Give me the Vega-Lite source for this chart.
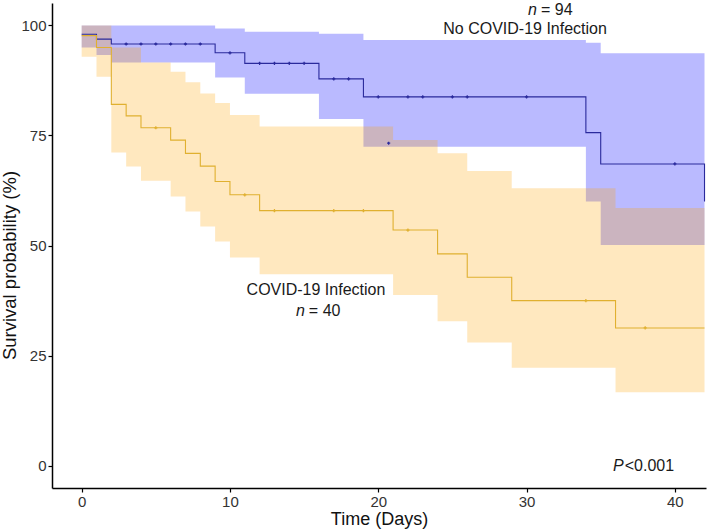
{
  "$schema": "https://vega.github.io/schema/vega-lite/v6.json",
  "width": 654,
  "height": 485,
  "autosize": {"type": "none"},
  "padding": {"left": 52, "top": 3, "right": 3, "bottom": 43},
  "background": "white",
  "config": {
    "view": {"stroke": null},
    "font": "Liberation Sans",
    "axis": {
      "grid": false,
      "domainColor": "black",
      "domainWidth": 1.5,
      "tickColor": "black",
      "tickWidth": 1.2,
      "tickSize": 4,
      "labelFont": "Liberation Sans",
      "labelFontSize": 15,
      "labelColor": "#333333",
      "labelPadding": 2,
      "titleFont": "Liberation Sans",
      "titleFontSize": 18,
      "titleFontWeight": "normal",
      "titleColor": "#111111"
    }
  },
  "datasets": {
    "km": [
      {"grp": "No COVID-19 Infection", "day": 0, "surv": 97.9, "lo": 94.9, "hi": 99.9},
      {"grp": "No COVID-19 Infection", "day": 1, "surv": 96.8, "lo": 93.2, "hi": 99.9},
      {"grp": "No COVID-19 Infection", "day": 2, "surv": 95.7, "lo": 91.5, "hi": 99.9},
      {"grp": "No COVID-19 Infection", "day": 9, "surv": 93.7, "lo": 88.1, "hi": 99.2},
      {"grp": "No COVID-19 Infection", "day": 11, "surv": 91.3, "lo": 84.4, "hi": 98.5},
      {"grp": "No COVID-19 Infection", "day": 16, "surv": 87.8, "lo": 78.7, "hi": 98.0},
      {"grp": "No COVID-19 Infection", "day": 19, "surv": 83.7, "lo": 72.4, "hi": 96.6},
      {"grp": "No COVID-19 Infection", "day": 34, "surv": 75.6, "lo": 60.0, "hi": 96.0},
      {"grp": "No COVID-19 Infection", "day": 35, "surv": 68.5, "lo": 50.1, "hi": 93.6},
      {"grp": "No COVID-19 Infection", "day": 42, "surv": 60.0, "lo": 50.1, "hi": 93.6},
      {"grp": "COVID-19 Infection", "day": 0, "surv": 97.6, "lo": 92.8, "hi": 99.9},
      {"grp": "COVID-19 Infection", "day": 1, "surv": 94.9, "lo": 88.3, "hi": 99.9},
      {"grp": "COVID-19 Infection", "day": 2, "surv": 82.0, "lo": 71.1, "hi": 94.9},
      {"grp": "COVID-19 Infection", "day": 3, "surv": 79.4, "lo": 67.9, "hi": 94.9},
      {"grp": "COVID-19 Infection", "day": 4, "surv": 76.7, "lo": 64.7, "hi": 91.5},
      {"grp": "COVID-19 Infection", "day": 6, "surv": 73.9, "lo": 61.1, "hi": 89.4},
      {"grp": "COVID-19 Infection", "day": 7, "surv": 70.9, "lo": 57.7, "hi": 87.0},
      {"grp": "COVID-19 Infection", "day": 8, "surv": 68.0, "lo": 54.3, "hi": 84.5},
      {"grp": "COVID-19 Infection", "day": 9, "surv": 64.5, "lo": 50.9, "hi": 82.3},
      {"grp": "COVID-19 Infection", "day": 10, "surv": 61.5, "lo": 47.3, "hi": 79.6},
      {"grp": "COVID-19 Infection", "day": 12, "surv": 57.9, "lo": 43.5, "hi": 77.0},
      {"grp": "COVID-19 Infection", "day": 21, "surv": 53.5, "lo": 38.8, "hi": 73.9},
      {"grp": "COVID-19 Infection", "day": 24, "surv": 48.1, "lo": 32.8, "hi": 70.9},
      {"grp": "COVID-19 Infection", "day": 26, "surv": 42.8, "lo": 28.0, "hi": 66.9},
      {"grp": "COVID-19 Infection", "day": 29, "surv": 37.5, "lo": 22.3, "hi": 63.0},
      {"grp": "COVID-19 Infection", "day": 36, "surv": 31.3, "lo": 16.7, "hi": 58.5},
      {"grp": "COVID-19 Infection", "day": 42, "surv": 31.3, "lo": 16.7, "hi": 58.5}
    ],
    "censor": [
      {"grp": "No COVID-19 Infection", "day": 3, "surv": 95.7},
      {"grp": "No COVID-19 Infection", "day": 4, "surv": 95.7},
      {"grp": "No COVID-19 Infection", "day": 5, "surv": 95.7},
      {"grp": "No COVID-19 Infection", "day": 6, "surv": 95.7},
      {"grp": "No COVID-19 Infection", "day": 7, "surv": 95.7},
      {"grp": "No COVID-19 Infection", "day": 8, "surv": 95.7},
      {"grp": "No COVID-19 Infection", "day": 10, "surv": 93.7},
      {"grp": "No COVID-19 Infection", "day": 12, "surv": 91.3},
      {"grp": "No COVID-19 Infection", "day": 13, "surv": 91.3},
      {"grp": "No COVID-19 Infection", "day": 14, "surv": 91.3},
      {"grp": "No COVID-19 Infection", "day": 15, "surv": 91.3},
      {"grp": "No COVID-19 Infection", "day": 17, "surv": 87.8},
      {"grp": "No COVID-19 Infection", "day": 18, "surv": 87.8},
      {"grp": "No COVID-19 Infection", "day": 20, "surv": 83.7},
      {"grp": "No COVID-19 Infection", "day": 22, "surv": 83.7},
      {"grp": "No COVID-19 Infection", "day": 23, "surv": 83.7},
      {"grp": "No COVID-19 Infection", "day": 25, "surv": 83.7},
      {"grp": "No COVID-19 Infection", "day": 26, "surv": 83.7},
      {"grp": "No COVID-19 Infection", "day": 30, "surv": 83.7},
      {"grp": "No COVID-19 Infection", "day": 40, "surv": 68.5},
      {"grp": "No COVID-19 Infection", "day": 20.7, "surv": 73.2},
      {"grp": "COVID-19 Infection", "day": 5, "surv": 76.7},
      {"grp": "COVID-19 Infection", "day": 11, "surv": 61.5},
      {"grp": "COVID-19 Infection", "day": 13, "surv": 57.9},
      {"grp": "COVID-19 Infection", "day": 17, "surv": 57.9},
      {"grp": "COVID-19 Infection", "day": 19, "surv": 57.9},
      {"grp": "COVID-19 Infection", "day": 22, "surv": 53.5},
      {"grp": "COVID-19 Infection", "day": 34, "surv": 37.5},
      {"grp": "COVID-19 Infection", "day": 38, "surv": 31.3}
    ],
    "labels": [
      {"day": 30.7, "surv": 103.5, "text": "n", "side": "right"},
      {"day": 30.7, "surv": 103.5, "text": "= 94", "side": "left"},
      {"day": 29.9, "surv": 99.0, "text": "No COVID-19 Infection", "side": "center"},
      {"day": 15.8, "surv": 40.0, "text": "COVID-19 Infection", "side": "center"},
      {"day": 15.05, "surv": 35.2, "text": "n", "side": "right"},
      {"day": 15.05, "surv": 35.2, "text": "= 40", "side": "left"},
      {"day": 36.55, "surv": 0, "text": "P", "side": "right"},
      {"day": 36.35, "surv": 0, "text": "<0.001", "side": "left"}
    ]
  },
  "encoding": {
    "x": {
      "field": "day",
      "type": "quantitative",
      "scale": {"domain": [-2.0, 42.1], "nice": false, "zero": false},
      "axis": {"values": [0, 10, 20, 30, 40], "title": "Time (Days)", "titlePadding": 1}
    }
  },
  "layer": [
    {
      "data": {"name": "km"},
      "transform": [{"filter": "datum.grp === 'No COVID-19 Infection'"}],
      "mark": {"type": "area", "interpolate": "step-after", "color": "#0000ff", "opacity": 0.27},
      "encoding": {
        "y": {
          "field": "lo",
          "type": "quantitative",
          "scale": {"domain": [-5, 105], "nice": false, "zero": false},
          "axis": {"values": [0, 25, 50, 75, 100], "title": "Survival probability (%)", "titlePadding": 1, "titleFontSize": 18.5, "titleY": 262}
        },
        "y2": {"field": "hi"}
      }
    },
    {
      "data": {"name": "km"},
      "transform": [{"filter": "datum.grp === 'COVID-19 Infection'"}],
      "mark": {"type": "area", "interpolate": "step-after", "color": "#ffa500", "opacity": 0.25},
      "encoding": {
        "y": {"field": "lo", "type": "quantitative", "title": "Survival probability (%)"},
        "y2": {"field": "hi"}
      }
    },
    {
      "data": {"name": "km"},
      "transform": [{"filter": "datum.grp === 'No COVID-19 Infection'"}],
      "mark": {"type": "line", "interpolate": "step-after", "color": "#2a2a9c", "strokeWidth": 1.1},
      "encoding": {
        "y": {"field": "surv", "type": "quantitative", "title": "Survival probability (%)"}
      }
    },
    {
      "data": {"name": "km"},
      "transform": [{"filter": "datum.grp === 'COVID-19 Infection'"}],
      "mark": {"type": "line", "interpolate": "step-after", "color": "#e0b030", "strokeWidth": 1.1},
      "encoding": {
        "y": {"field": "surv", "type": "quantitative", "title": "Survival probability (%)"}
      }
    },
    {
      "data": {"name": "censor"},
      "mark": {"type": "point", "shape": "cross", "filled": true, "size": 10, "opacity": 1},
      "encoding": {
        "y": {"field": "surv", "type": "quantitative", "title": "Survival probability (%)"},
        "color": {
          "field": "grp",
          "type": "nominal",
          "scale": {"domain": ["No COVID-19 Infection", "COVID-19 Infection"], "range": ["#2a2a9c", "#e0b030"]},
          "legend": null
        }
      }
    },
    {
      "data": {"name": "labels"},
      "transform": [{"filter": "datum.side === 'center'"}],
      "mark": {"type": "text", "align": "center", "baseline": "middle", "fontSize": 16, "color": "#1a1a1a", "font": "Liberation Sans"},
      "encoding": {
        "y": {"field": "surv", "type": "quantitative", "title": "Survival probability (%)"},
        "text": {"field": "text"}
      }
    },
    {
      "data": {"name": "labels"},
      "transform": [{"filter": "datum.side === 'right'"}],
      "mark": {"type": "text", "align": "right", "baseline": "middle", "fontSize": 16, "fontStyle": "italic", "color": "#1a1a1a", "font": "Liberation Sans"},
      "encoding": {
        "y": {"field": "surv", "type": "quantitative", "title": "Survival probability (%)"},
        "text": {"field": "text"}
      }
    },
    {
      "data": {"name": "labels"},
      "transform": [{"filter": "datum.side === 'left'"}],
      "mark": {"type": "text", "align": "left", "baseline": "middle", "dx": 4, "fontSize": 16, "color": "#1a1a1a", "font": "Liberation Sans"},
      "encoding": {
        "y": {"field": "surv", "type": "quantitative", "title": "Survival probability (%)"},
        "text": {"field": "text"}
      }
    }
  ]
}
